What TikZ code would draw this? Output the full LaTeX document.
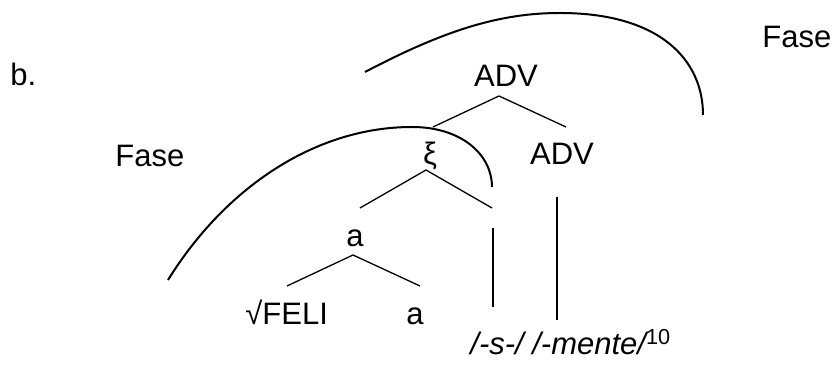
\documentclass[tikz,border=0pt]{standalone}
\usepackage{fontspec}
\setmainfont{Liberation Sans}
\usetikzlibrary{positioning}
\tikzset{
    lbl/.style={inner sep=0pt, anchor=base}, % tree labels sit on their baseline
    branch/.style={line width=0.65pt},
    stem/.style={line width=1.2pt},
    phase/.style={line width=1pt}
}

\begin{document}
\begin{tikzpicture}[x=0.5pt, y=-0.5pt, font=\fontsize{15.5}{18}\selectfont]
    \useasboundingbox (0,0) rectangle (835,367);

    % labels
    \node[lbl, anchor=base west] (ex) at (10,86) {b.};
    \node[lbl, anchor=base west] (faseL) at (115,167) {Fase};
    \node[lbl, anchor=base west] (faseR) at (762,48) {Fase};

    % tree nodes
    \node[lbl] (adv) at (506,87) {ADV};
    \node[lbl] (xi) at (430,165) {ξ};
    \node[lbl] (advR) at (562,165) {ADV};
    \node[lbl] (aMid) at (355,247) {a};
    \node[lbl, anchor=base west] (root) at (245,325) {√FELI};
    \node[lbl] (aLow) at (415,325) {a};
    \node[lbl, anchor=base west] (exps) at (470,355) {\itshape /-s-/ /-mente/\textsuperscript{\upshape 10}};

    % branch ends
    \coordinate (advV) at (499,96);   \coordinate (advL) at (433,127);  \coordinate (advRr) at (566,127);
    \coordinate (xiV) at (426,170);   \coordinate (xiL) at (360,208);   \coordinate (xiR) at (492,208);
    \coordinate (aV) at (353,255);    \coordinate (aL) at (287,286);    \coordinate (aR) at (420,286);
    \coordinate (sTop) at (493,228);  \coordinate (sBot) at (493,307);
    \coordinate (mTop) at (557,197);  \coordinate (mBot) at (557,320);

    \draw[branch] (advL) -- (advV) -- (advRr);
    \draw[branch] (xiL) -- (xiV) -- (xiR);
    \draw[branch] (aL) -- (aV) -- (aR);
    \draw[stem] (sTop) -- (sBot);
    \draw[stem] (mTop) -- (mBot);

    % phases
    \draw[phase] (365,72) .. controls (445,30) and (500,13) .. (560,13)
                 .. controls (660,13) and (703,60) .. (703,115);
    \draw[phase] (168,280) .. controls (225,188) and (315,127) .. (412,127)
                 .. controls (462,127) and (492,155) .. (492,187);
\end{tikzpicture}
\end{document}
